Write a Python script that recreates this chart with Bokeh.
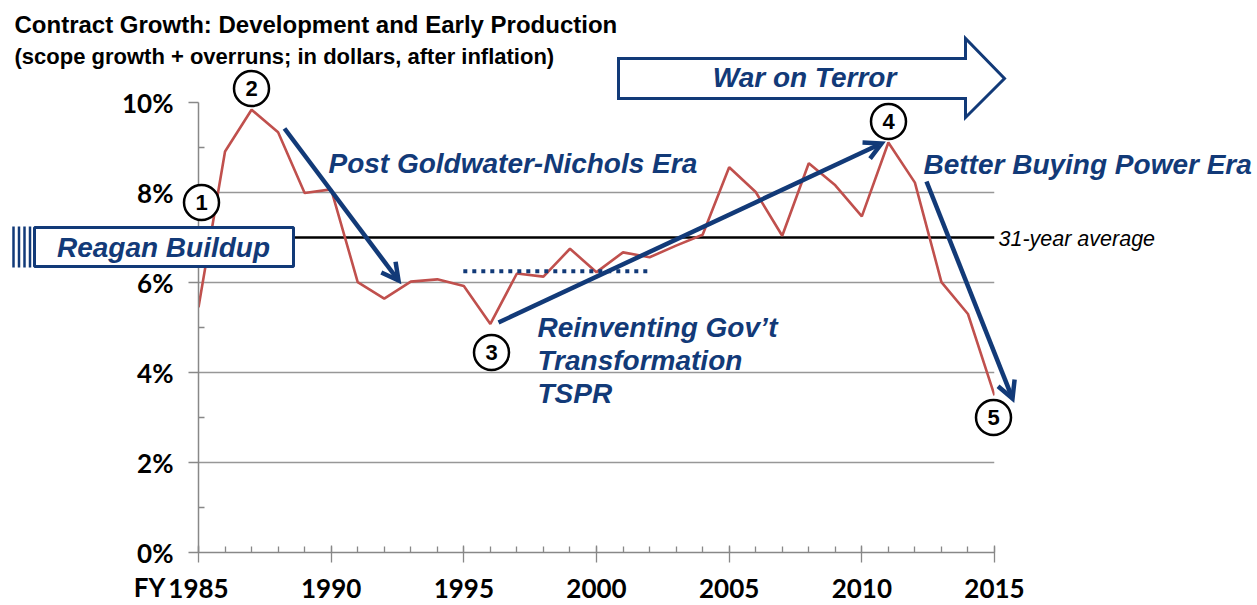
import math
from bokeh.plotting import figure
from bokeh.models import Range1d, FixedTicker
from bokeh.core.properties import value
from bokeh.embed import file_html
from bokeh.resources import INLINE

# ---------------- data ----------------
years = list(range(1985, 2016))
growth_pct = [5.45, 8.91, 9.84, 9.34, 7.99, 8.07, 6.01, 5.64, 6.02, 6.07,
              5.92, 5.08, 6.20, 6.13, 6.75, 6.23, 6.67, 6.56, 6.82, 7.06,
              8.56, 8.01, 7.04, 8.65, 8.16, 7.47, 9.11, 8.22, 6.01, 5.30,
              3.49]
average_pct = 7.0
x_ticks = [1985, 1990, 1995, 2000, 2005, 2010, 2015]
x_tick_labels = ["1985", "1990", "1995", "2000", "2005", "2010", "2015"]
y_ticks = [0, 2, 4, 6, 8, 10]
y_tick_labels = ["0%", "2%", "4%", "6%", "8%", "10%"]
y_minor_ticks = [1, 3, 5, 7, 9]
tspr_span = [1994.98, 2002.06]
tspr_level = 6.25
circle_labels = ["1", "2", "3", "4", "5"]

NAVY = "#123A78"
RED = "#C0504D"
GRID = "#979797"
AXIS = "#888888"

# ---------------- layout helpers (annotation placement only) ----------------
FRAME_W, FRAME_H = 796, 450
X0, Y0 = 198.0, 552.0          # page px of (1985, 0%)
PPX = FRAME_W / 30.0
PPY = FRAME_H / 10.0


def dx(px):
    return 1985 + (px - X0) / PPX


def dy(py):
    return (Y0 - py) / PPY


p = figure(frame_width=FRAME_W, frame_height=FRAME_H,
           x_range=Range1d(1985, 2015), y_range=Range1d(0, 10),
           output_backend="svg", toolbar_location=None, title=None,
           min_border_left=198, min_border_right=259,
           min_border_top=102, min_border_bottom=52,
           background_fill_color="white", border_fill_color="white",
           outline_line_color=None)

# x axis
xa = p.xaxis[0]
xa.ticker = FixedTicker(ticks=x_ticks, minor_ticks=years)
xa.major_label_overrides = {t: l for t, l in zip(x_ticks, x_tick_labels)}
xa.major_label_text_font = "Lato"
xa.major_label_text_font_style = "bold"
xa.major_label_text_font_size = "26px"
xa.major_label_text_color = "black"
xa.major_label_standoff = 16
xa.axis_line_color = AXIS
xa.axis_line_width = 1.5
xa.major_tick_line_color = AXIS
xa.minor_tick_line_color = AXIS
xa.major_tick_line_width = 1.3
xa.minor_tick_line_width = 1.3
xa.major_tick_in = 7
xa.major_tick_out = 10
xa.minor_tick_in = 6
xa.minor_tick_out = 0

# y axis
ya = p.yaxis[0]
ya.ticker = FixedTicker(ticks=y_ticks, minor_ticks=y_minor_ticks)
ya.major_label_overrides = {t: l for t, l in zip(y_ticks, y_tick_labels)}
ya.major_label_text_font = "Lato"
ya.major_label_text_font_style = "bold"
ya.major_label_text_font_size = "26px"
ya.major_label_text_color = "black"
ya.major_label_standoff = 15
ya.axis_line_color = AXIS
ya.axis_line_width = 1.5
ya.major_tick_line_color = AXIS
ya.minor_tick_line_color = AXIS
ya.major_tick_line_width = 1.3
ya.minor_tick_line_width = 1.3
ya.major_tick_in = 0
ya.major_tick_out = 10
ya.minor_tick_in = 6
ya.minor_tick_out = 0

p.xgrid.visible = False
p.ygrid.ticker = FixedTicker(ticks=y_ticks)
p.ygrid.grid_line_color = GRID
p.ygrid.grid_line_width = 1.3

# average line and series
p.line([years[0], years[-1]], [average_pct, average_pct], line_color="black", line_width=2.6)
p.line(years, growth_pct, line_color=RED, line_width=2.6)
p.line(tspr_span, [tspr_level, tspr_level], line_color=NAVY, line_width=4,
       line_dash="4 5")


# navy arrows (drawn as glyphs so they may leave the frame)
def arrow(x0, y0, x1, y1, head=19.0, half=math.radians(28)):
    ang = math.atan2(y1 - y0, x1 - x0)
    sx1 = x1 - 2.5 * math.cos(ang)
    sy1 = y1 - 2.5 * math.sin(ang)
    p.line([dx(x0), dx(sx1)], [dy(y0), dy(sy1)], line_color=NAVY, line_width=4.5,
           level="overlay")
    bx = [x1 - head * math.cos(ang + half), x1, x1 - head * math.cos(ang - half)]
    by = [y1 - head * math.sin(ang + half), y1, y1 - head * math.sin(ang - half)]
    p.line([dx(v) for v in bx], [dy(v) for v in by], line_color=NAVY, line_width=4.5,
           line_join="miter", level="overlay")


arrow(284, 128, 398, 280)
arrow(498, 322, 881, 143)
arrow(926, 181, 1012, 398)

# Reagan buildup box with stripes
stripe_px = [13, 18.5, 24, 29.5]
p.segment(x0=[dx(s) for s in stripe_px], y0=[dy(226)] * 4,
          x1=[dx(s) for s in stripe_px], y1=[dy(267)] * 4,
          line_color=NAVY, line_width=2.5, level="overlay")
p.quad(left=[dx(34)], right=[dx(293)], top=[dy(227)], bottom=[dy(266)],
       fill_color="white", line_color=NAVY, line_width=3, level="overlay")

# War on Terror block arrow
wot = [(618, 58), (965, 58), (965, 38), (1004, 78), (965, 117), (965, 98), (618, 98)]
p.patch([dx(a) for a, b in wot], [dy(b) for a, b in wot], fill_color=None,
        line_color=NAVY, line_width=3, line_join="miter", level="overlay")

# circled step numbers
circle_px = [(201, 202), (251, 88), (491, 352), (888, 121), (993, 417)]
cx = [dx(a) for a, b in circle_px]
cy = [dy(b) for a, b in circle_px]
p.scatter(cx, cy, marker="circle", size=35, fill_color="white", line_color="black",
          line_width=2.5, level="overlay")
p.text(cx, cy, text=circle_labels, text_align="center", text_baseline="middle",
       text_font=value("Liberation Sans"), text_font_style="bold",
       text_font_size="22px", text_color="black", level="overlay")


def txt(px, base_py, s, size, color=NAVY, style="bold italic", align="left",
        font="Liberation Sans"):
    # base_py is the page-px baseline; place the text by its cap centre
    mid = base_py - 0.355 * size
    p.text(x=[dx(px)], y=[dy(mid)], text=[s], text_font=value(font),
           text_font_size=f"{size}px", text_font_style=style, text_color=color,
           text_align=align, text_baseline="middle", level="overlay")


txt(14, 33, "Contract Growth: Development and Early Production", 24,
    color="black", style="bold")
txt(14, 64, "(scope growth + overruns; in dollars, after inflation)", 22,
    color="black", style="bold")
txt(328, 173, "Post Goldwater-Nichols Era", 28)
txt(537, 337, "Reinventing Gov\u2019t", 28)
txt(537, 370, "Transformation", 28)
txt(537, 403, "TSPR", 28)
txt(804, 87, "War on Terror", 28, align="center")
txt(923, 174, "Better Buying Power Era", 28)
txt(163, 257, "Reagan Buildup", 28, align="center")
txt(998, 246, "31-year average", 21.5, color="black", style="italic")
txt(149, 596, "FY", 26, color="black", style="bold", align="center", font="Lato")

open("out.html", "w").write(file_html(p, INLINE))
